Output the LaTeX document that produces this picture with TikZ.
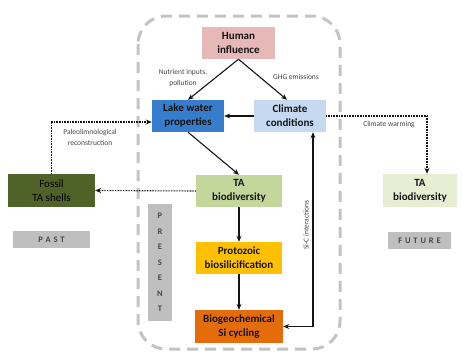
\documentclass[tikz,border=0pt]{standalone}
\usepackage{fontspec}
\setmainfont{Carlito}
\usetikzlibrary{arrows.meta,positioning,calc}
\definecolor{humanc}{RGB}{230,185,184}
\definecolor{lakec}{RGB}{55,125,205}
\definecolor{climc}{RGB}{198,217,241}
\definecolor{tac}{RGB}{195,214,155}
\definecolor{protoc}{RGB}{255,192,0}
\definecolor{bioc}{RGB}{228,108,10}
\definecolor{fossilc}{RGB}{79,98,40}
\definecolor{futc}{RGB}{232,238,212}
\definecolor{grayc}{RGB}{191,191,191}
\definecolor{framec}{RGB}{195,195,195}
\definecolor{txtc}{RGB}{20,20,20}
\definecolor{lblc}{RGB}{70,70,70}
\tikzset{
  box/.style={draw=none, align=center, inner sep=0pt, text=txtc,
    font=\fontsize{11}{14}\selectfont\bfseries},
  tag/.style={draw=none, fill=grayc, inner sep=0pt, text=lblc,
    font=\fontsize{8.5}{10}\selectfont\bfseries},
  lbl/.style={align=center, text=lblc, inner sep=0pt, font=\fontsize{7.5}{11}\selectfont},
  arr/.style={-{Stealth[length=6pt,width=5pt]}, line width=1.1pt, draw=txtc},
  dotarr/.style={-{Stealth[length=6pt,width=5pt]}, line width=1.1pt, draw=txtc, dash pattern=on 0.8pt off 0.8pt},
}
\begin{document}
\begin{tikzpicture}[x=1pt,y=-1pt]
\useasboundingbox (0,0) rectangle (463,351);
% frame
\draw[framec, line width=3pt, dash pattern=on 11pt off 7pt, rounded corners=28pt] (138,16) rectangle (340,349);
% nodes
\node[box, fill=humanc, minimum width=73pt, minimum height=32pt] (human) at (238.5,43) {Human\\influence};
\node[box, fill=lakec, minimum width=72pt, minimum height=32pt] (lake) at (188,116) {Lake water\\properties};
\node[box, fill=climc, minimum width=72pt, minimum height=32pt] (clim) at (290,116) {Climate\\conditions};
\node[box, fill=tac, minimum width=86pt, minimum height=32pt] (ta) at (239,191) {TA\\biodiversity};
\node[box, fill=protoc, minimum width=86pt, minimum height=32pt] (proto) at (239,258) {Protozoic\\biosilicification};
\node[box, fill=bioc, minimum width=88pt, minimum height=33pt] (bio) at (239,326.5) {Biogeochemical\\Si cycling};
\node[box, fill=fossilc, minimum width=87pt, minimum height=33pt, text=black, font=\fontsize{11}{14}\selectfont] (fossil) at (51.5,190.5) {Fossil\\TA shells};
\node[box, fill=futc, minimum width=74pt, minimum height=33pt] (futta) at (420,190.5) {TA\\biodiversity};
\node[tag, minimum width=77pt, minimum height=17pt] (past) at (51.5,239.5) {P\,\,A\,\,S\,\,T};
\node[tag, minimum width=63pt, minimum height=17pt] (future) at (419.5,240.5) {F\,\,U\,\,T\,\,U\,\,R\,\,E};
\node[tag, minimum width=24pt, minimum height=117pt, align=center, font=\fontsize{8.5}{15.5}\selectfont\bfseries] (present) at (160,262.5) {P\\R\\E\\S\\E\\N\\T};
% arrows
\draw[arr] (human.south) -- (lake.north);
\draw[arr] (human.south) -- ([xshift=-3pt]clim.north);
\draw[arr] (clim.west) -- (lake.east);
\draw[arr] (lake.south) -- (ta.north);
\draw[arr] (ta.south) -- (proto.north);
\draw[arr] (proto.south) -- (bio.north);
\draw[arr, {Stealth[length=6pt,width=5pt]}-{Stealth[length=6pt,width=5pt]}] (bio.east) -| ([xshift=23pt]clim.south);
\draw[dotarr] (ta.west) -- (fossil.east);
\draw[dotarr] (fossil.north) |- ([yshift=-6pt]lake.west);
\draw[dotarr] (clim.east) -| ([xshift=7pt]futta.north);
% labels
\node[lbl] (l1) at (183,78) {Nutrient inputs,\\pollution};
\node[lbl] (l2) at (296,77) {GHG emissions};
\node[lbl] (l3) at (90,137.5) {Paleolimnological\\reconstruction};
\node[lbl] (l4) at (389,125) {Climate warming};
\node[lbl, rotate=90] (l5) at (306,225) {Si-C interactions};
\end{tikzpicture}
\end{document}
